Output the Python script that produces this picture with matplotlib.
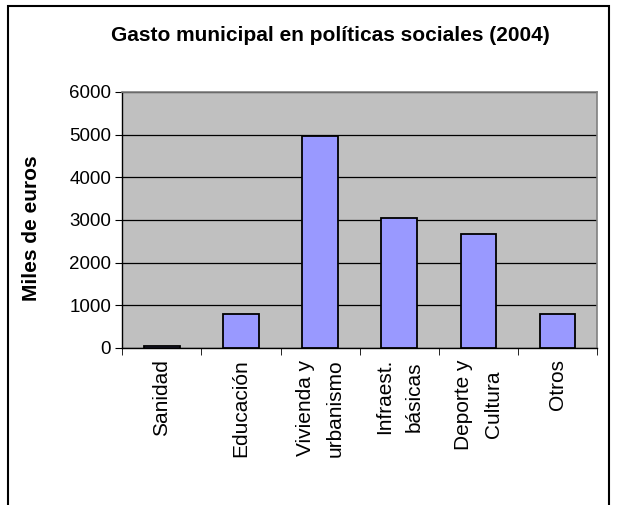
import matplotlib.pyplot as plt
from matplotlib.patches import Rectangle
import numpy as np

plt.rcParams['font.family'] = ['Liberation Sans', 'DejaVu Sans']

categorias = ["Sanidad", "Educación", "Vivienda y\nurbanismo", "Infraest.\nbásicas",
              "Deporte y\nCultura", "Otros"]
gasto = [50, 790, 4960, 3040, 2660, 790]
yticks = [0, 1000, 2000, 3000, 4000, 5000, 6000]

fig = plt.figure(figsize=(6.17, 5.05), dpi=100)
ax = fig.add_axes([0.198, 0.311, 0.770, 0.507])

x = np.arange(len(categorias))
ax.bar(x, gasto, width=0.45, color="#9999FF", edgecolor="black", linewidth=1.3, zorder=3)

ax.set_facecolor("#C0C0C0")
ax.set_xlim(-0.5, len(categorias) - 0.5)
ax.set_ylim(0, 6000)
ax.set_yticks(yticks)
ax.yaxis.grid(True, color="black", linewidth=0.9, zorder=1)
ax.set_axisbelow(True)

ax.set_xticks(x)
ax.set_xticklabels(categorias, rotation=90, fontsize=15, multialignment="center",
                   linespacing=1.7)
ax.set_xticks(np.arange(-0.5, len(categorias)), minor=True)
ax.tick_params(axis="x", which="major", length=0, pad=8)
ax.tick_params(axis="x", which="minor", length=5, direction="out", color="black")
ax.tick_params(axis="y", labelsize=13.5, length=5, direction="out", pad=3)

for s in ["top", "right"]:
    ax.spines[s].set_color("#808080")
    ax.spines[s].set_linewidth(1.2)
for s in ["left", "bottom"]:
    ax.spines[s].set_color("black")
    ax.spines[s].set_linewidth(1.0)

ax.set_ylabel("Miles de euros", fontsize=15, fontweight="bold", va="center")
ax.yaxis.set_label_coords(32 / 617, 1 - 228 / 505, transform=fig.transFigure)

fig.text(0.536, 0.929, "Gasto municipal en políticas sociales (2004)",
         ha="center", va="center", fontsize=15, fontweight="bold")

# marco del gráfico
fig.patches.append(Rectangle((8 / 617, -0.02), 601 / 617, 1 - 6 / 505 + 0.02,
                             transform=fig.transFigure, fill=False,
                             edgecolor="black", linewidth=1.5))

fig.savefig("out.png", dpi=100)
